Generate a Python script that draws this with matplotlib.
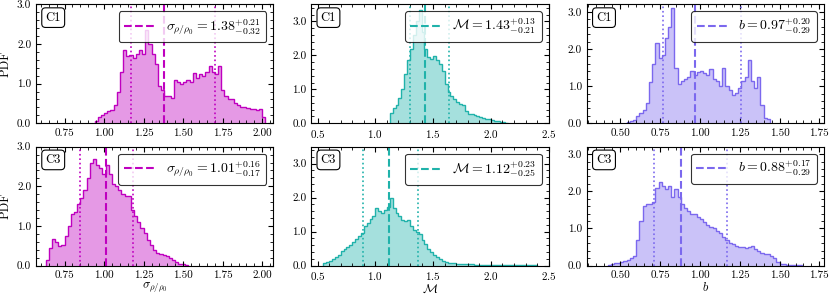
import numpy as np
import matplotlib
matplotlib.use("Agg")
import matplotlib.pyplot as plt
from matplotlib.ticker import AutoMinorLocator, FormatStrFormatter

plt.rcParams['font.family'] = 'serif'
plt.rcParams['font.serif'] = ['cmr10']
plt.rcParams['mathtext.fontset'] = 'cm'
plt.rcParams['axes.formatter.use_mathtext'] = True

# histogram values (bin start, bin width, heights)
sig_c1_start, sig_c1_width = 0.94, 0.02
sig_c1 = [0.05, 0.15, 0.2, 0.25, 0.3, 0.33, 0.45, 0.8, 1.3, 1.85,
          1.7, 1.72, 1.65, 1.75, 1.85, 1.75, 2.35, 2.0, 1.75, 1.5,
          0.95, 0.85, 0.7, 0.7, 0.65, 1.08, 1.05, 0.98, 1.05, 1.1,
          1.05, 1.28, 1.15, 1.25, 1.2, 1.3, 1.45, 1.3, 1.25, 1.45,
          0.85, 0.7, 0.62, 0.6, 0.5, 0.45, 0.42, 0.4, 0.38, 0.36,
          0.35, 0.33, 0.35, 0.15]

mach_c1_start, mach_c1_width = 1.125, 0.025
mach_c1 = [0.3, 0.45, 0.55, 0.75, 1.0, 1.45, 1.85, 2.2, 2.6, 3.0,
           3.35, 2.7, 2.2, 1.95, 1.9, 1.98, 1.85, 1.75, 1.55, 1.15,
           0.92, 0.8, 0.7, 0.62, 0.58, 0.55, 0.35, 0.28, 0.26, 0.24,
           0.2, 0.18, 0.16, 0.14, 0.12, 0.1, 0.08, 0.06, 0.05, 0.04,
           0.02]

b_c1_start, b_c1_width = 0.54, 0.02
b_c1 = [0.03, 0.06, 0.1, 0.2, 0.28, 0.35, 0.55, 1.1, 1.6, 2.15,
        1.75, 1.85, 2.3, 2.6, 3.1, 1.5, 1.05, 1.15, 1.2, 1.25,
        1.4, 1.3, 1.38, 1.4, 1.35, 1.3, 1.45, 1.2, 1.15, 1.0,
        1.5, 1.0, 0.9, 0.75, 0.82, 0.95, 1.15, 1.25, 1.7, 1.15,
        0.95, 1.25, 0.5, 0.15, 0.12]

sig_c3_start, sig_c3_width = 0.63, 0.02
sig_c3 = [0.15, 0.45, 0.68, 0.6, 0.5, 0.52, 0.75, 1.0, 1.3, 1.35,
          1.55, 1.7, 1.9, 2.2, 2.6, 2.7, 2.55, 2.45, 2.3, 2.55,
          2.3, 2.05, 2.0, 1.9, 1.8, 1.75, 1.75, 1.4, 1.25, 1.1,
          0.95, 0.82, 0.65, 0.52, 0.4, 0.32, 0.28, 0.27, 0.25, 0.2,
          0.14, 0.08, 0.05, 0.03, 0.01]

mach_c3_start, mach_c3_width = 0.55, 0.025
mach_c3 = [0.08, 0.1, 0.12, 0.2, 0.25, 0.32, 0.42, 0.5, 0.56, 0.6,
           0.68, 0.78, 0.88, 0.97, 1.15, 1.25, 1.38, 1.45, 1.7, 1.6,
           1.55, 1.65, 1.72, 2.0, 1.7, 1.55, 1.45, 1.35, 1.3, 1.35,
           1.15, 1.05, 1.0, 0.92, 0.75, 0.62, 0.48, 0.4, 0.32, 0.25,
           0.18, 0.13, 0.1, 0.08, 0.07, 0.06, 0.05, 0.045, 0.04, 0.035,
           0.03, 0.03, 0.025, 0.025, 0.02, 0.02, 0.02, 0.015, 0.015, 0.012,
           0.012, 0.01, 0.01, 0.01, 0.01, 0.008, 0.008, 0.008, 0.006, 0.006,
           0.005, 0.005, 0.004, 0.004]

b_c3_start, b_c3_width = 0.42, 0.02
b_c3 = [0.02, 0.04, 0.06, 0.07, 0.09, 0.11, 0.14, 0.2, 0.25, 0.7,
        1.2, 1.6, 1.65, 1.65, 1.72, 2.1, 2.25, 2.15, 2.05, 2.15,
        1.85, 2.05, 1.85, 1.65, 1.55, 1.48, 1.4, 1.38, 1.32, 1.25,
        1.18, 1.1, 1.05, 1.0, 0.92, 0.88, 0.78, 0.7, 0.62, 0.58,
        0.53, 0.5, 0.5, 0.48, 0.5, 0.52, 0.45, 0.38, 0.34, 0.32,
        0.3, 0.26, 0.2, 0.1, 0.05, 0.03, 0.02, 0.02, 0.01, 0.01,
        0.005]

# medians and errors (median, +err, -err) as printed in the legends
stats_c1 = [(1.38, 0.21, 0.32), (1.43, 0.13, 0.21), (0.97, 0.20, 0.29)]
stats_c3 = [(1.01, 0.16, 0.17), (1.12, 0.23, 0.25), (0.88, 0.17, 0.29)]

symbols = [r'\sigma_{\rho/\rho_0}', r'\mathcal{M}', r'b']
colors = ['m', 'lightseagreen', 'mediumslateblue']
xlims = [(0.57, 2.07), (0.445, 2.5), (0.29, 1.78)]
ylims = [(0, 3.0), (0, 3.5), (0, 3.2)]
row_names = ['C1', 'C3']

hists = [
    [(sig_c1_start, sig_c1_width, sig_c1), (mach_c1_start, mach_c1_width, mach_c1), (b_c1_start, b_c1_width, b_c1)],
    [(sig_c3_start, sig_c3_width, sig_c3), (mach_c3_start, mach_c3_width, mach_c3), (b_c3_start, b_c3_width, b_c3)],
]
stats = [stats_c1, stats_c3]

fig = plt.figure(figsize=(8.3, 2.97), dpi=100)
lefts = [0.0434, 0.375, 0.707]
bottoms = [0.585, 0.106]
w, h = 0.286, 0.400

for i in range(2):
    for j in range(3):
        ax = fig.add_axes([lefts[j], bottoms[i], w, h])
        start, width, vals = hists[i][j]
        vals = np.array(vals)
        edges = start + width * np.arange(len(vals) + 1)
        c = colors[j]
        ax.stairs(vals, edges, fill=True, color=c, alpha=0.4, lw=0)
        ax.stairs(vals, edges, color=c, lw=1.0)

        med, up, lo = stats[i][j]
        label = r'$%s = %.2f^{+%.2f}_{-%.2f}$' % (symbols[j], med, up, lo)
        ax.axvline(med, ls='--', color=c, lw=1.5, label=label)
        ax.axvline(med - up, ls=':', color=c, lw=1.2)
        ax.axvline(med + lo, ls=':', color=c, lw=1.2)

        leg = ax.legend(loc='upper right', fontsize=10, fancybox=True,
                        framealpha=0.8, edgecolor='k', handlelength=2.2)
        leg.get_frame().set_linewidth(0.8)

        ax.text(0.04, 0.94, row_names[i], transform=ax.transAxes, fontsize=9,
                va='top', ha='left',
                bbox=dict(boxstyle='round,pad=0.3', fc='white', ec='k', lw=0.8))

        ax.set_xlim(xlims[j])
        ax.set_ylim(ylims[j])
        ax.yaxis.set_major_locator(plt.MultipleLocator(1.0))
        ax.yaxis.set_major_formatter(FormatStrFormatter('%.1f'))
        if j == 1:
            ax.xaxis.set_major_locator(plt.MultipleLocator(0.5))
        else:
            ax.xaxis.set_major_locator(plt.MultipleLocator(0.25))
            ax.xaxis.set_major_formatter(FormatStrFormatter('%.2f'))
        ax.xaxis.set_minor_locator(AutoMinorLocator())
        ax.yaxis.set_minor_locator(AutoMinorLocator())
        ax.tick_params(which='both', direction='in', top=True, right=True, labelsize=8)
        ax.tick_params(which='major', length=3.5)
        ax.tick_params(which='minor', length=2)

        if j == 0:
            ax.set_ylabel('PDF', fontsize=9)
        if i == 1:
            ax.set_xlabel('$%s$' % symbols[j], fontsize=9, labelpad=0.5)

fig.savefig('out.png', dpi=100)
